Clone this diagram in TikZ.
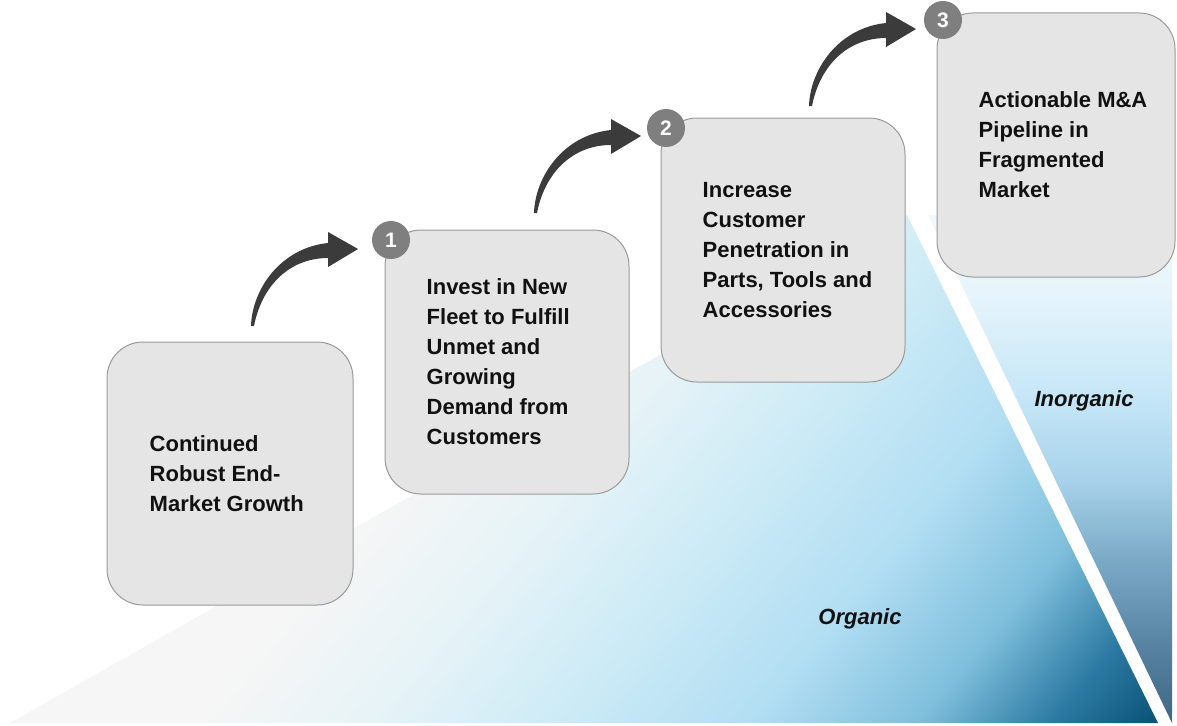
\documentclass[tikz,border=0pt]{standalone}
\usepackage{fontspec}
\setmainfont{Liberation Sans}
\definecolor{orgA}{HTML}{F6F6F6}
\definecolor{orgB}{HTML}{E6F3F7}
\definecolor{orgC}{HTML}{CDEBF6}
\definecolor{orgD}{HTML}{B2DEF3}
\definecolor{orgE}{HTML}{7FBFDC}
\definecolor{orgF}{HTML}{2C7AA3}
\definecolor{orgG}{HTML}{0B5479}
\definecolor{inA}{HTML}{3F6785}
\definecolor{inB}{HTML}{55809F}
\definecolor{inC}{HTML}{7AA9C6}
\definecolor{inD}{HTML}{A8D2EA}
\definecolor{inE}{HTML}{C5E6F7}
\definecolor{inF}{HTML}{E6F4FB}
\definecolor{inG}{HTML}{F0F8FC}
\definecolor{boxfill}{HTML}{E5E5E5}
\definecolor{boxline}{HTML}{9A9A9A}
\definecolor{numfill}{HTML}{7F7F7F}
\definecolor{arrowcol}{HTML}{3B3B3B}
\definecolor{txt}{HTML}{111111}
\pgfdeclarehorizontalshading{orgsh}{100bp}{color(0bp)=(orgA); color(42bp)=(orgA); color(50bp)=(orgB); color(58bp)=(orgC); color(67bp)=(orgD); color(74.5bp)=(orgE); color(80.5bp)=(orgF); color(85bp)=(orgG); color(100bp)=(orgG)}
\pgfdeclareverticalshading{inorgsh}{100bp}{color(0bp)=(inA); color(25bp)=(inA); color(32bp)=(inB); color(41bp)=(inC); color(49bp)=(inD); color(57bp)=(inE); color(67bp)=(inF); color(75bp)=(inG); color(100bp)=(inG)}
\tikzset{
  stepbox/.style={draw=boxline, line width=1pt, fill=boxfill, rounded corners=36pt, inner sep=0pt},
  boxtext/.style={anchor=west, align=left, text=txt, font=\fontsize{22}{30}\selectfont\bfseries, inner sep=0pt},
  numdot/.style={circle, fill=numfill, minimum size=38pt, inner sep=0pt, text=white, font=\fontsize{21}{21}\selectfont\bfseries},
  zonelabel/.style={text=txt, font=\fontsize{22}{22}\selectfont\bfseries\itshape, inner sep=0pt},
  bentarrow/.pic={
    \fill[arrowcol] (-1,1) .. controls (0,-35) and (28,-77) .. (76,-82) -- (76,-93) -- (106,-76) -- (76,-58) -- (76,-67) .. controls (38,-67) and (10,-40) .. (2,1) -- cycle;
  }
}
\begin{document}
\begin{tikzpicture}[x=1pt,y=-1pt]
\useasboundingbox (0,0) rectangle (1177,725);
\fill[white] (0,0) rectangle (1177,725);
% zones
\shade[shading=orgsh, shading angle=-40] (10,723) -- (907,215) -- (1158,723) -- cycle;
\shade[shading=inorgsh] (928,215) -- (1172,215) -- (1172,723) -- cycle;
% bent arrows
\coordinate (t1) at (252,325);
\coordinate (t2) at (535,212);
\coordinate (t3) at (810,105);
\pic at (t1) {bentarrow};
\pic at (t2) {bentarrow};
\pic at (t3) {bentarrow};
% boxes
\node[stepbox, minimum width=246pt, minimum height=263pt] (b0) at (230,473.5) {};
\node[stepbox, minimum width=244pt, minimum height=264pt] (b1) at (507,362) {};
\node[stepbox, minimum width=244pt, minimum height=264pt] (b2) at (783,250) {};
\node[stepbox, minimum width=238pt, minimum height=264pt] (b3) at (1056,145) {};
% texts
\node[boxtext] (x0) at ([xshift=43pt]b0.west) {Continued\\Robust End-\\Market Growth};
\node[boxtext] (x1) at ([xshift=42pt]b1.west) {Invest in New\\Fleet to Fulfill\\Unmet and\\Growing\\Demand from\\Customers};
\node[boxtext] (x2) at ([xshift=42pt]b2.west) {Increase\\Customer\\Penetration in\\Parts, Tools and\\Accessories};
\node[boxtext] (x3) at ([xshift=42pt]b3.west) {Actionable M\&A\\Pipeline in\\Fragmented\\Market};
% number dots
\node[numdot] (n1) at (391,240) {1};
\node[numdot] (n2) at (666,128) {2};
\node[numdot] (n3) at (943,20) {3};
% zone labels
\node[zonelabel] (org) at (860,619) {Organic};
\node[zonelabel] (inorg) at (1084,401) {Inorganic};
\end{tikzpicture}
\end{document}
